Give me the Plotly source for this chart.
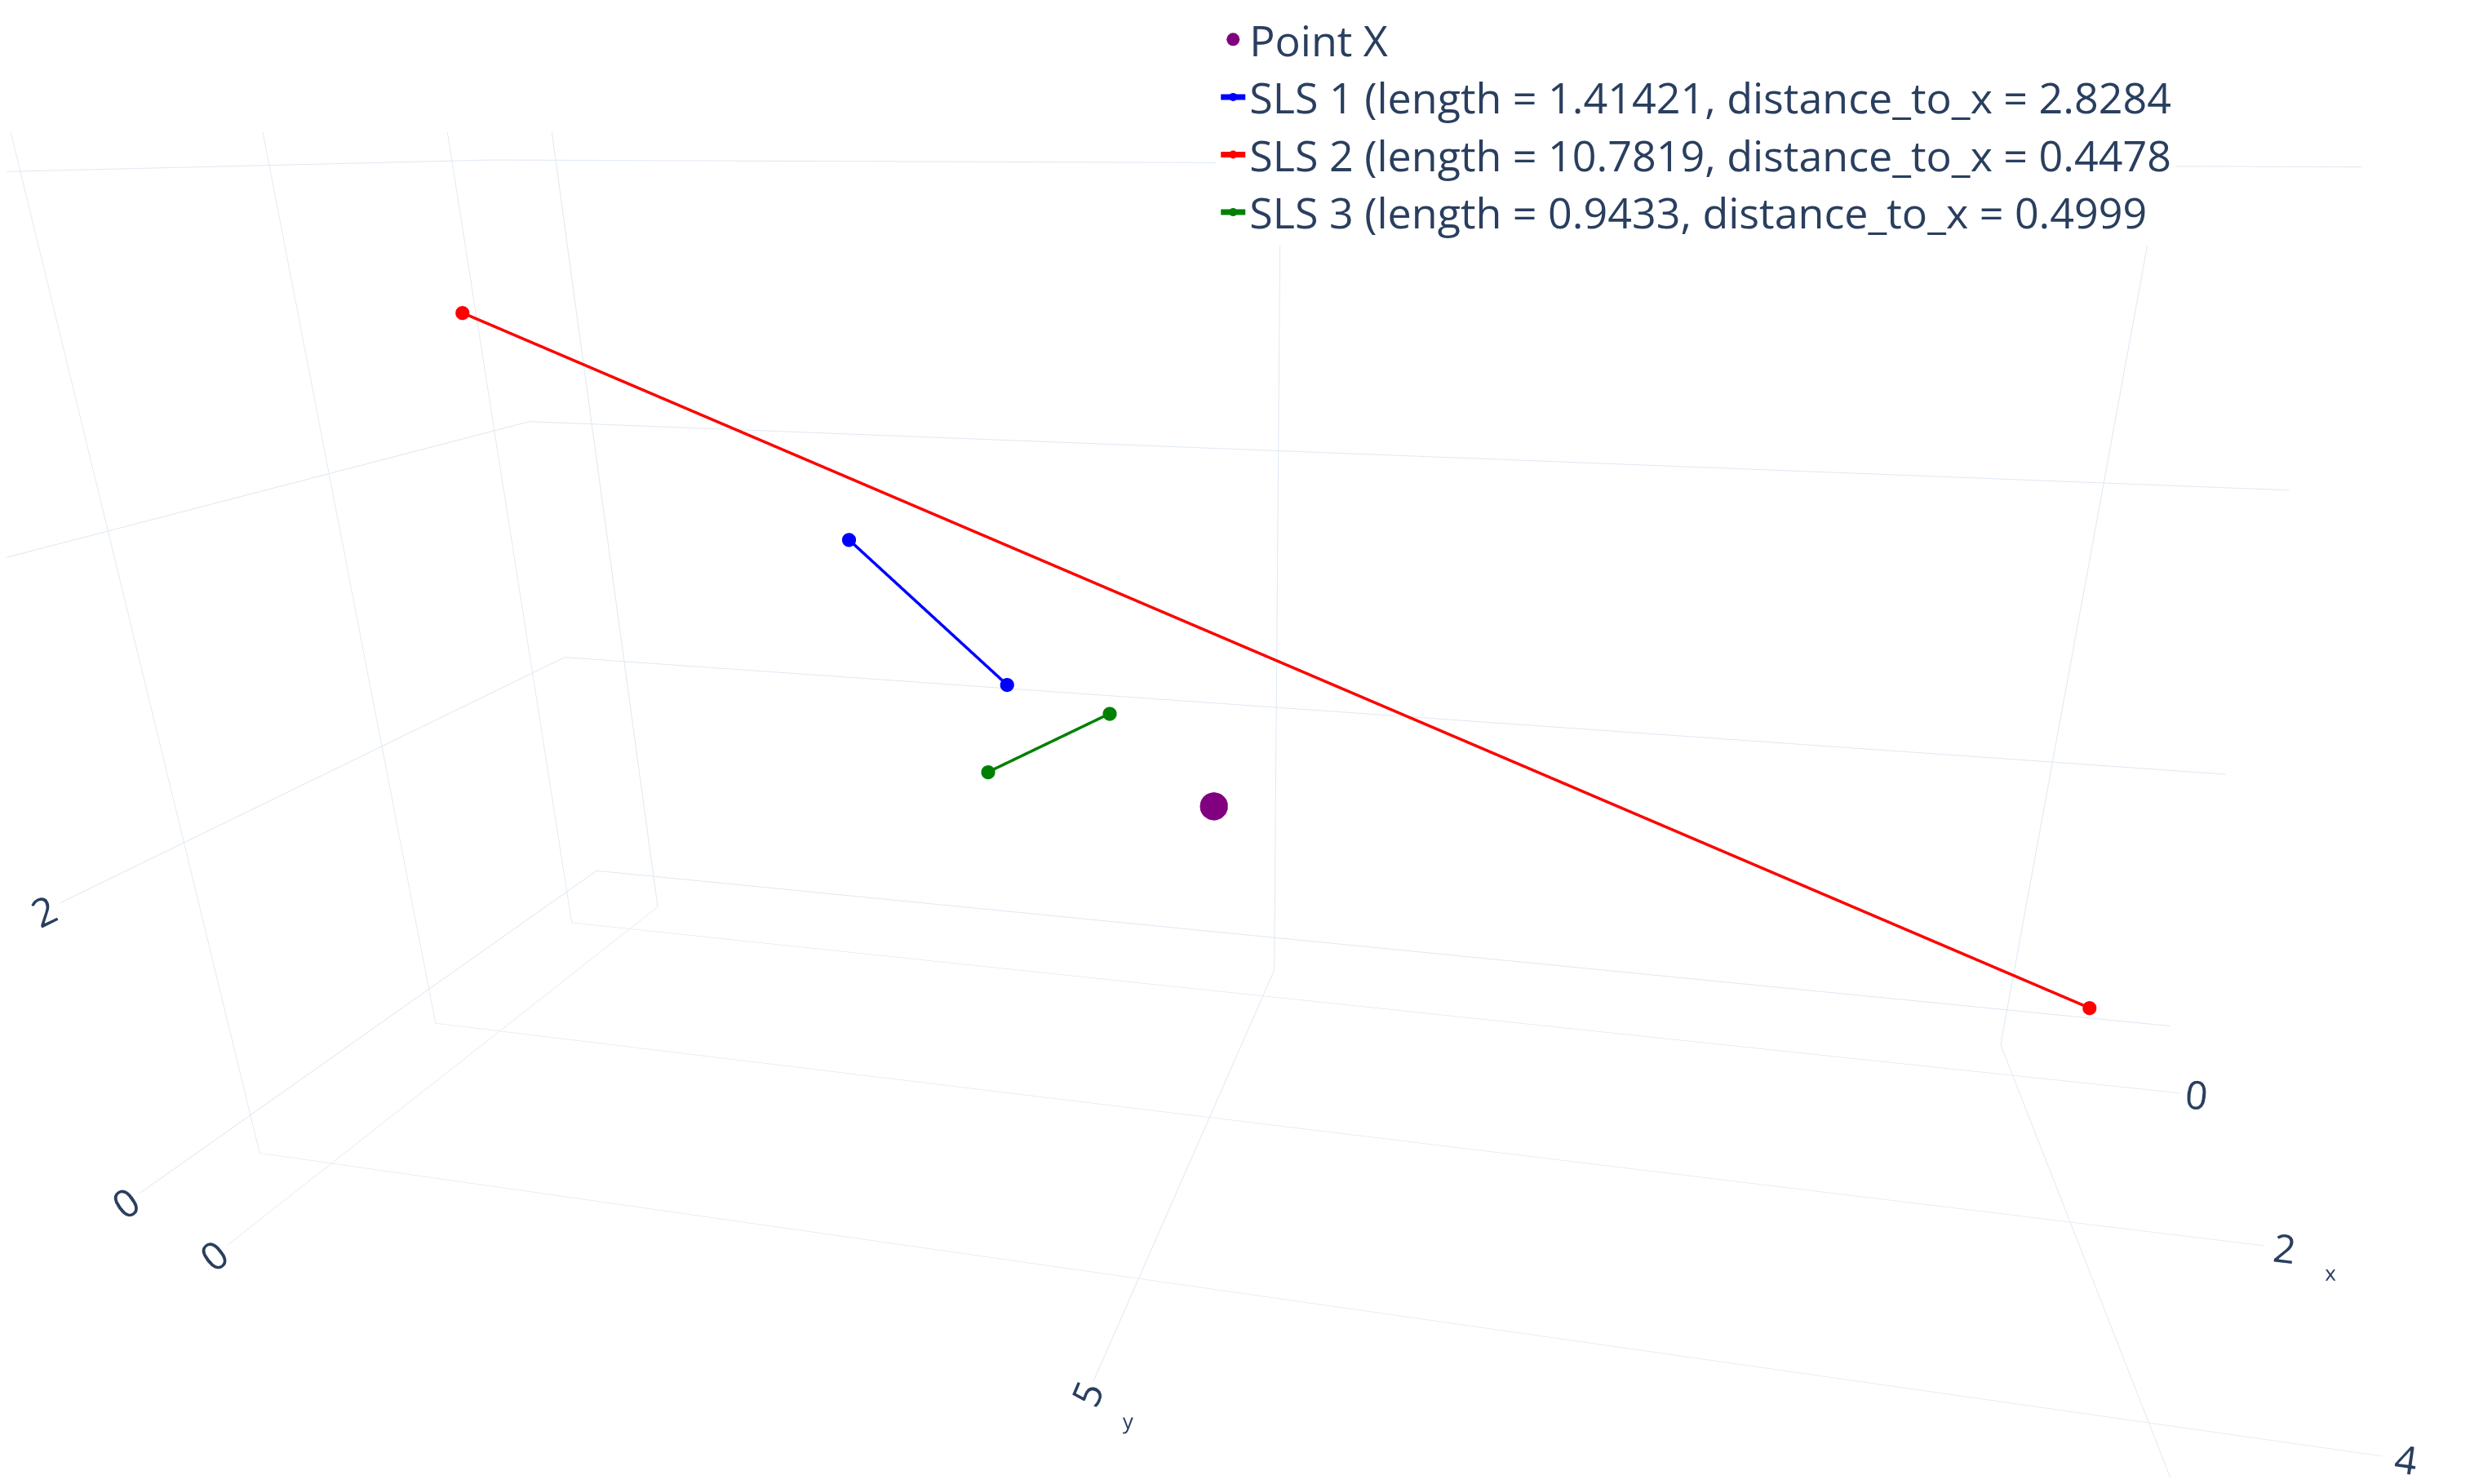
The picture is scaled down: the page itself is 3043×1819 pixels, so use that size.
import plotly.graph_objects as go

point_x = [1.8]; point_y = [5.0]; point_z = [2.0]
sls_names = ["SLS 1 (length = 1.41421, distance_to_x = 2.8284",
             "SLS 2 (length = 10.7819, distance_to_x = 0.4478",
             "SLS 3 (length = 0.9433, distance_to_x = 0.4999"]
sls_colors = ["blue", "red", "green"]
sls_x = [[1.0, 1.0], [1.0, 1.5], [1.5, 1.5]]
sls_y = [[2.5, 3.5], [0.0, 10.0], [3.5, 4.3]]
sls_z = [[3.5, 2.5], [5.0, 1.0], [2.0, 2.5]]

fig = go.Figure()
fig.add_trace(go.Scatter3d(x=point_x, y=point_y, z=point_z, mode="markers",
                           marker=dict(size=20, color="purple"), name="Point X"))
for n, c, xs, ys, zs in zip(sls_names, sls_colors, sls_x, sls_y, sls_z):
    fig.add_trace(go.Scatter3d(x=xs, y=ys, z=zs, mode="lines+markers", name=n,
                               line=dict(color=c, width=7), marker=dict(size=10, color=c)))

grid = "#DFE8F3"
ax = dict(gridcolor=grid, zerolinecolor=grid, showbackground=False,
          tickfont=dict(size=24), titlefont=None)
fig.update_layout(
    template="plotly_white",
    font=dict(color="#2a3f5f"),
    margin=dict(l=0, r=0, t=0, b=0),
    legend=dict(x=0.49, y=1.0, xanchor="left", yanchor="top", font=dict(size=52)),
    scene=dict(
        xaxis=dict(title=dict(text="x", font=dict(size=26)), range=[-0.5, 5], tickvals=[0, 2, 4],
                   gridcolor=grid, zerolinecolor=grid, tickfont=dict(size=24)),
        yaxis=dict(title=dict(text="y", font=dict(size=26)), range=[-0.5, 11], tickvals=[0, 5, 10],
                   gridcolor=grid, zerolinecolor=grid, tickfont=dict(size=24)),
        zaxis=dict(title=dict(text="z", font=dict(size=26)), range=[-0.3, 6.2], tickvals=[0, 2, 4, 6],
                   gridcolor=grid, zerolinecolor=grid, tickfont=dict(size=24)),
        aspectmode="manual", aspectratio=dict(x=0.7, y=1.8, z=0.9),
        camera=dict(eye=dict(x=1.35, y=0.3, z=0.45), center=dict(x=0, y=0, z=-0.08)),
        domain=dict(x=[0, 1], y=[0, 0.95]),
    ),
)
fig.write_html("out.html")
